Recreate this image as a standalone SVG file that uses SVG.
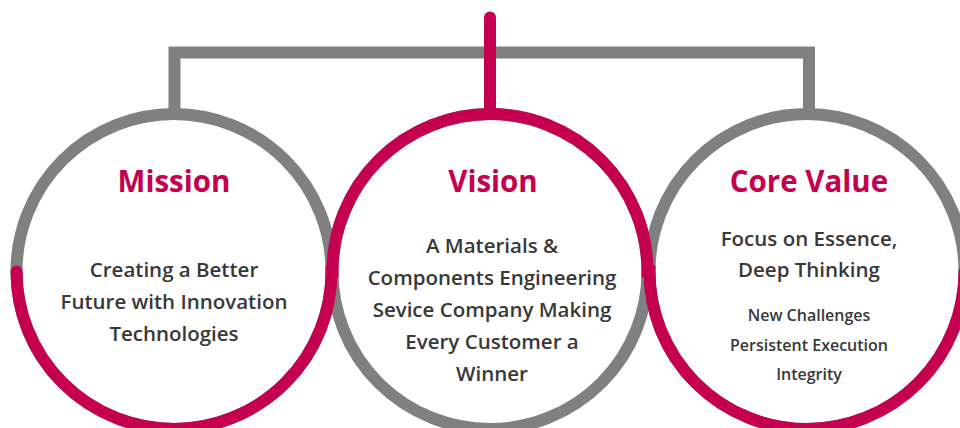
<svg xmlns="http://www.w3.org/2000/svg" width="960" height="428" viewBox="0 0 960 428">
<style>
.ring{fill:none;stroke:#808080;stroke-width:12}
.title{font-family:"Open Sans","Noto Sans","Liberation Sans",sans-serif;font-weight:700;font-size:29.5px;fill:#C5004F;text-anchor:middle}
.body{font-family:"Open Sans","Noto Sans","Liberation Sans",sans-serif;font-weight:600;font-size:20.5px;fill:#383838;text-anchor:middle}
.small{font-family:"Open Sans","Noto Sans","Liberation Sans",sans-serif;font-weight:600;font-size:16px;fill:#383838;text-anchor:middle}
</style>
<rect width="960" height="428" fill="#ffffff"/>
<g id="node-mission">
<circle class="ring" cx="174" cy="271.5" r="157.5"/>
<text class="title" x="174" y="192">Mission</text>
<text class="body" x="174" y="277">Creating a Better</text>
<text class="body" x="174" y="309">Future with Innovation</text>
<text class="body" x="174" y="341">Technologies</text>
</g>
<g id="node-vision">
<circle class="ring" cx="490" cy="271.5" r="157.5"/>
<text class="title" x="493" y="192">Vision</text>
<text class="body" x="492" y="253">A Materials &amp;</text>
<text class="body" x="492" y="285">Components Engineering</text>
<text class="body" x="492" y="317">Sevice Company Making</text>
<text class="body" x="492" y="349">Every Customer a</text>
<text class="body" x="492" y="381">Winner</text>
</g>
<g id="node-core">
<circle class="ring" cx="807" cy="271.5" r="157.5"/>
<text class="title" x="809" y="192">Core Value</text>
<text class="body" x="809" y="246">Focus on Essence,</text>
<text class="body" x="809" y="277">Deep Thinking</text>
<text class="small" x="809" y="321">New Challenges</text>
<text class="small" x="809" y="351">Persistent Execution</text>
<text class="small" x="809" y="380">Integrity</text>
</g>
<g id="connectors">
<path d="M174.5 114 V52.5 H809 V114" fill="none" stroke="#808080" stroke-width="12"/>
<path d="M16.5 271.5 A157.5 157.5 0 0 0 331.5 271.5 L332.5 271.5 A157.5 157.5 0 0 1 647.5 271.5 L649.5 271.5 A157.5 157.5 0 0 0 964.5 271.5" fill="none" stroke="#C5004F" stroke-width="12" stroke-linecap="round"/>
<path d="M490 17.5 V114" fill="none" stroke="#C5004F" stroke-width="12" stroke-linecap="round"/>
</g>
</svg>
